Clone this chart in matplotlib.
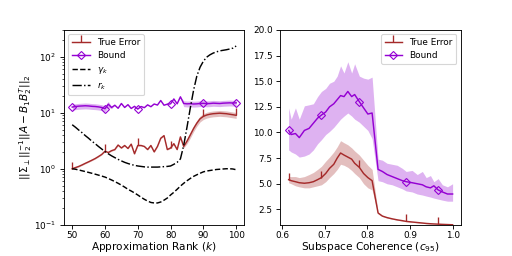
import numpy as np
import matplotlib
matplotlib.use("Agg")
import matplotlib.pyplot as plt

plt.rcParams['font.size'] = 8
plt.rcParams['axes.labelsize'] = 9.5
plt.rcParams['legend.fontsize'] = 8
plt.rcParams['axes.labelpad'] = 0.5
plt.rcParams['xtick.major.pad'] = 2
plt.rcParams['lines.linewidth'] = 1.3

# ---- left panel: error vs approximation rank ----
k = np.arange(50, 101)

true_err = [1.00, 1.05, 1.10, 1.17, 1.25, 1.33, 1.42, 1.52, 1.65, 1.80,
            2.05, 1.95, 2.10, 2.20, 2.65, 2.35, 2.60, 2.30, 2.75, 1.85,
            2.60, 2.60, 2.50, 2.20, 2.60, 2.00, 2.50, 3.50, 3.90, 2.20,
            2.35, 2.80, 2.20, 3.70, 2.50, 3.10, 4.00, 5.20, 6.50, 7.80,
            8.60, 9.10, 9.40, 9.60, 9.70, 9.80, 9.70, 9.60, 9.40, 9.20,
            9.00]
te_spread = [0.02] * 34 + [0.06, 0.10] + [0.12] * 15

bound = [12.6, 12.9, 13.1, 13.2, 13.3, 13.2, 13.0, 12.9, 12.7, 12.4,
         11.8, 14.2, 12.4, 13.6, 12.0, 14.6, 12.4, 13.9, 11.9, 13.0,
         11.6, 12.9, 12.3, 13.8, 12.8, 14.3, 13.7, 16.5, 13.6, 14.2,
         14.4, 17.6, 14.4, 19.2, 14.6, 14.4, 14.5, 14.3, 14.4, 14.6,
         14.7, 14.5, 14.6, 14.8, 14.7, 14.6, 14.8, 14.9, 15.0, 14.9,
         15.0]
bd_spread = [0.12] * 12 + [0.05] + [0.0] * 21 + [0.12] * 17

gamma_k = [1.00, 0.98, 0.95, 0.92, 0.89, 0.86, 0.83, 0.80, 0.77, 0.74,
           0.71, 0.67, 0.63, 0.59, 0.55, 0.51, 0.47, 0.43, 0.40, 0.37,
           0.34, 0.31, 0.285, 0.265, 0.25, 0.245, 0.245, 0.255, 0.275, 0.30,
           0.34, 0.38, 0.43, 0.49, 0.55, 0.61, 0.67, 0.73, 0.78, 0.83,
           0.88, 0.91, 0.93, 0.95, 0.97, 0.98, 0.99, 1.00, 1.00, 0.99,
           0.96]

r_k = [6.1, 5.5, 4.9, 4.4, 3.9, 3.5, 3.1, 2.8, 2.5, 2.25,
       2.02, 1.85, 1.70, 1.58, 1.47, 1.38, 1.30, 1.24, 1.19, 1.15,
       1.12, 1.10, 1.08, 1.07, 1.07, 1.07, 1.07, 1.08, 1.09, 1.10,
       1.12, 1.20, 1.30, 1.50, 2.6, 5.5, 12, 25, 45, 65,
       83, 98, 108, 116, 122, 127, 130, 133, 137, 142,
       155]

# ---- right panel: error vs subspace coherence ----
coh = [0.615, 0.621, 0.631, 0.640, 0.652, 0.663, 0.673, 0.683, 0.692, 0.702,
       0.711, 0.721, 0.729, 0.737, 0.745, 0.754, 0.763, 0.770, 0.781, 0.791,
       0.801, 0.811, 0.825, 0.835, 0.846, 0.858, 0.870, 0.882, 0.891, 0.905,
       0.917, 0.929, 0.938, 0.948, 0.956, 0.966, 0.976, 0.988, 1.000]

bound_c = [10.2, 9.8, 9.9, 9.5, 10.2, 10.4, 10.9, 11.4, 11.7, 12.0,
           12.5, 12.8, 13.2, 13.6, 13.5, 14.0, 13.5, 13.7, 13.0, 12.4,
           11.8, 11.9, 6.4, 6.2, 5.9, 5.7, 5.5, 5.3, 5.2, 5.1,
           5.0, 4.9, 4.7, 4.6, 4.8, 4.4, 4.2, 4.0, 4.0]
bound_c_hi = [12.4, 11.3, 12.4, 11.3, 12.6, 12.7, 12.8, 13.5, 14.0, 14.3,
              14.8, 15.0, 15.5, 16.5, 15.8, 16.9, 15.8, 16.7, 15.5, 15.3,
              15.2, 15.4, 7.4, 7.3, 7.0, 6.9, 6.8, 6.5, 6.2, 6.3,
              5.9, 6.2, 5.6, 5.8, 5.2, 5.5, 4.9, 4.7, 5.0]
bound_c_lo = [8.3, 8.1, 7.9, 7.6, 7.7, 7.9, 8.3, 8.9, 9.3, 9.8,
              10.1, 10.5, 10.9, 11.3, 11.6, 11.9, 11.6, 11.3, 11.0, 10.6,
              10.2, 9.4, 5.3, 5.2, 5.0, 4.9, 4.7, 4.5, 4.3, 4.2,
              4.0, 3.9, 3.8, 3.7, 3.6, 3.5, 3.4, 3.3, 3.3]

err_c = [5.4, 5.3, 5.2, 5.1, 5.05, 5.1, 5.2, 5.4, 5.6, 6.0,
         6.5, 6.9, 7.5, 8.0, 7.8, 7.6, 7.4, 7.0, 6.6, 6.0,
         5.6, 5.3, 2.15, 1.85, 1.7, 1.58, 1.48, 1.4, 1.33, 1.27,
         1.22, 1.17, 1.13, 1.1, 1.08, 1.06, 1.04, 1.02, 1.0]
err_c_hi = [5.7, 5.7, 5.7, 5.6, 5.7, 5.9, 6.1, 6.4, 6.7, 7.2,
            7.6, 8.1, 8.6, 9.2, 9.0, 8.8, 8.5, 8.2, 7.8, 7.3,
            6.8, 6.4, 2.25, 1.9, 1.75, 1.62, 1.52, 1.44, 1.37, 1.3,
            1.25, 1.2, 1.16, 1.13, 1.1, 1.08, 1.06, 1.04, 1.02]
err_c_lo = [5.1, 5.0, 4.8, 4.7, 4.6, 4.6, 4.7, 4.8, 4.9, 5.2,
            5.6, 6.0, 6.4, 6.9, 6.8, 6.6, 6.3, 6.0, 5.6, 5.0,
            4.6, 4.4, 2.05, 1.8, 1.65, 1.54, 1.44, 1.36, 1.29, 1.24,
            1.19, 1.14, 1.1, 1.07, 1.06, 1.04, 1.02, 1.0, 0.98]
marks_c = [0, 8, 18, 28, 35]

red = 'brown'
purple = 'darkviolet'

fig, (ax1, ax2) = plt.subplots(1, 2, figsize=(6.4, 3.2), dpi=80)
fig.subplots_adjust(bottom=0.122, top=0.883)

te = np.array(true_err)
bd = np.array(bound)
ax1.fill_between(k, te * (1 - np.array(te_spread)), te * (1 + np.array(te_spread)),
                 color=red, alpha=0.3, lw=0)
ax1.plot(k, te, color=red, marker=2, markevery=10, markersize=6,
         markeredgewidth=1.2, label='True Error')
ax1.fill_between(k, bd * (1 - np.array(bd_spread)), bd * (1 + np.array(bd_spread)),
                 color=purple, alpha=0.3, lw=0)
ax1.plot(k, bd, color=purple, marker='D', markevery=10, markersize=5,
         markerfacecolor='none', label='Bound')
ax1.plot(k, gamma_k, 'k--', label=r'$\gamma_k$')
ax1.plot(k, r_k, 'k-.', label=r'$r_k$')
ax1.set_yscale('log')
ax1.set_ylim(1e-1, 3e2)
ax1.set_xlabel(r'Approximation Rank ($k$)')
ax1.set_ylabel(r'$||\Sigma_\perp||_2^{-1}||A - B_1B_2^T||_2$')
ax1.legend(loc='upper left')

ax2.fill_between(coh, err_c_lo, err_c_hi, color=red, alpha=0.3, lw=0)
ax2.plot(coh, err_c, color=red, marker=2, markevery=marks_c, markersize=6,
         markeredgewidth=1.2, label='True Error')
ax2.fill_between(coh, bound_c_lo, bound_c_hi, color=purple, alpha=0.3, lw=0)
ax2.plot(coh, bound_c, color=purple, marker='D', markevery=marks_c, markersize=5,
         markerfacecolor='none', label='Bound')
ax2.set_ylim(1, 20)
ax2.set_xlabel(r'Subspace Coherence ($c_{95}$)')
ax2.legend(loc='upper right')

fig.savefig('out.png', dpi=80)
